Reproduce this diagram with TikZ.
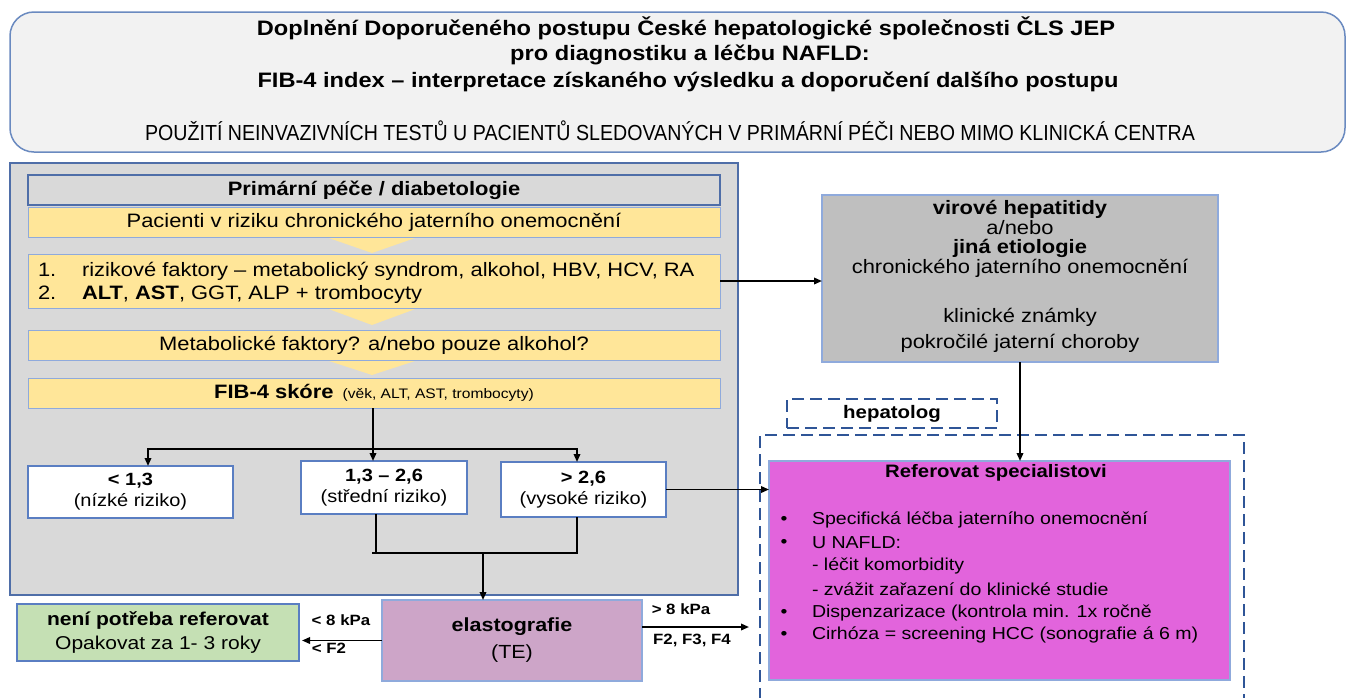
\documentclass[tikz,border=0pt]{standalone}
\usepackage{fontspec}
\setmainfont{Liberation Sans}[FakeStretch=1.13]
\newfontfamily\narrowsf{Liberation Sans}[FakeStretch=0.9]
\usetikzlibrary{arrows.meta}
\definecolor{tfill}{HTML}{F2F2F2}
\definecolor{tbord}{HTML}{6A8AC0}
\definecolor{pfill}{HTML}{D9D9D9}
\definecolor{pbord}{HTML}{4F6EA8}
\definecolor{yfill}{HTML}{FFE699}
\definecolor{ybord}{HTML}{8FAADC}
\definecolor{gfill}{HTML}{BFBFBF}
\definecolor{efill}{HTML}{CDA5C8}
\definecolor{grfill}{HTML}{C5E0B4}
\definecolor{rfill}{HTML}{E264DC}
\definecolor{dblue}{HTML}{2F5597}
\definecolor{wbord}{HTML}{5A7EC2}
\newcommand\ftitle{\fontsize{20.9}{24}\selectfont}
\newcommand\fsubt{\narrowsf\fontsize{21.8}{24}\selectfont}
\newcommand\fbody{\fontsize{19.4}{22}\selectfont}
\newcommand\fparen{\fontsize{13.8}{16}\selectfont}
\newcommand\fbx{\fontsize{17.7}{21}\selectfont}
\newcommand\fref{\fontsize{17.3}{21}\selectfont}
\newcommand\flab{\fontsize{14.9}{17}\selectfont}
\tikzset{
  base/.style={inner sep=0pt, outer sep=0pt},
  titlebox/.style={base, draw=tbord, line width=1.5, fill=tfill, rounded corners=24},
  panel/.style={base, draw=pbord, line width=1.2, fill=pfill},
  hdrbox/.style={base, draw=pbord, line width=1.2, fill=pfill, font=\fbody\bfseries},
  yelbox/.style={base, draw=ybord, line width=1, fill=yfill, font=\fbody},
  chev/.style={fill=yfill},
  wbox/.style={base, draw=wbord, line width=1.2, fill=white, font=\fbx, align=center},
  graybox/.style={base, draw=ybord, line width=1.2, fill=gfill},
  elbox/.style={base, draw=ybord, line width=1.2, fill=efill, align=center},
  grbox/.style={base, draw=wbord, line width=1.2, fill=grfill, align=center},
  refbox/.style={base, draw=ybord, line width=1.2, fill=rfill},
  dashbox/.style={base, draw=dblue, line width=2.2, dash pattern=on 12pt off 6pt},
  txt/.style={base, font=\fbody},
  rtxt/.style={base, font=\fref, anchor=west},
  lab/.style={base, font=\flab\bfseries},
  ln/.style={line width=1.8, draw=black},
  arr/.style={ln, -{Triangle[length=8pt,width=6.5pt]}},
  arr2/.style={ln, {Triangle[length=8pt,width=6.5pt]}-{Triangle[length=8pt,width=6.5pt]}}
}
\begin{document}
\begin{tikzpicture}[x=1pt,y=-1pt]
\useasboundingbox (0,0) rectangle (1347,697);
\fill[white] (0,0) rectangle (1347,697);

% title
\node[titlebox, minimum width=1335, minimum height=140] (title) at (677.5,82) {};
\node[base, font=\ftitle\bfseries] (t1) at (686,28) {Doplnění Doporučeného postupu České hepatologické společnosti ČLS JEP};
\node[base, font=\ftitle\bfseries] (t2) at (690,55) {pro diagnostiku a léčbu NAFLD:};
\node[base, font=\ftitle\bfseries] (t3) at (688,82) {FIB-4 index -- interpretace získaného výsledku a doporučení dalšího postupu};
\node[base, font=\fsubt] (t4) at (670,131) {POUŽITÍ NEINVAZIVNÍCH TESTŮ U PACIENTŮ SLEDOVANÝCH V PRIMÁRNÍ PÉČI NEBO MIMO KLINICKÁ CENTRA};

% left panel
\node[panel, minimum width=728, minimum height=432] (panel) at (374,379) {};
\fill[chev] (326,237) -- (418,237) -- (372,253) -- cycle;
\fill[chev] (326,308) -- (418,308) -- (372,325) -- cycle;
\fill[chev] (326,360) -- (418,360) -- (372,375) -- cycle;
\node[hdrbox, minimum width=692, minimum height=30] (hdr) at (374,190) {Primární péče / diabetologie};
\node[yelbox, minimum width=692, minimum height=30] (p1) at (374,222) {Pacienti v riziku chronického jaterního onemocnění};
\node[yelbox, minimum width=692, minimum height=54] (p2) at (374,281) {};
\node[txt, anchor=base west] (n1) at (38,276.5) {1.};
\node[txt, anchor=base west] (l1) at (82,276.5) {rizikové faktory -- metabolický syndrom, alkohol, HBV, HCV, RA};
\node[txt, anchor=base west] (n2) at (38,299.5) {2.};
\node[txt, anchor=base west] (l2) at (82,299.5) {\textbf{ALT}, \textbf{AST}, GGT, ALP + trombocyty};
\node[yelbox, minimum width=692, minimum height=30] (p3) at (374,345) {Metabolické faktory? a/nebo pouze alkohol?};
\node[yelbox, minimum width=692, minimum height=30] (fib) at (374,393) {\textbf{FIB-4 skóre}\hspace{9pt}{\fparen(věk, ALT, AST, trombocyty)}};

\node[wbox, minimum width=205, minimum height=52] (low) at (130.5,492) {\textbf{< 1,3}\\(nízké riziko)};
\node[wbox, minimum width=166, minimum height=53] (mid) at (384,487.5) {\textbf{1,3 -- 2,6}\\(střední riziko)};
\node[wbox, minimum width=165, minimum height=55] (high) at (583.5,489.5) {\textbf{> 2,6}\\(vysoké riziko)};

% bottom left
\node[elbox, minimum width=260, minimum height=81, font=\fontsize{19}{22}\selectfont] (elast) at (512,640.5) {\textbf{elastografie}\\[5pt](TE)};
\node[grbox, minimum width=282, minimum height=57, font=\fontsize{18.6}{24}\selectfont] (green) at (158,632.5) {\textbf{není potřeba referovat}\\Opakovat za 1- 3 roky};

% right side
\node[graybox, minimum width=396, minimum height=167] (gray) at (1020,278.5) {};
\node[txt] (g1) at (1020,209) {\textbf{virové hepatitidy}};
\node[txt] (g2) at (1020,228) {a/nebo};
\node[txt] (g3) at (1020,248) {\textbf{jiná etiologie}};
\node[txt] (g4) at (1020,268) {chronického jaterního onemocnění};
\node[txt] (g5) at (1020,317) {klinické známky};
\node[txt] (g6) at (1020,343) {pokročilé jaterní choroby};

\node[dashbox, minimum width=210, minimum height=29, font=\fontsize{18.1}{21}\selectfont\bfseries] (hep) at (892,413.5) {hepatolog};
\coordinate (cbl) at (760,700);
\coordinate (ctl) at (760,435);
\coordinate (ctr) at (1244,435);
\coordinate (cbr) at (1244,700);
\draw[dashbox] (cbl) -- (ctl) -- (ctr) -- (cbr);

\node[refbox, minimum width=461, minimum height=219] (ref) at (999.5,570.5) {};
\node[base, font=\fontsize{18}{21}\selectfont\bfseries] (rt) at (996,473) {Referovat specialistovi};
\foreach \yy/\nm in {520/b1,543/b2,613/b3,635/b4} {\node[base, font=\fref] (\nm) at (784,\yy) {•};}
\node[rtxt] (r1) at (812,520) {Specifická léčba jaterního onemocnění};
\node[rtxt] (r2) at (812,543) {U NAFLD:};
\node[rtxt] (r3) at (812,566) {- léčit komorbidity};
\node[rtxt] (r4) at (812,589) {- zvážit zařazení do klinické studie};
\node[rtxt] (r5) at (812,613) {Dispenzarizace (kontrola min. 1x ročně};
\node[rtxt] (r6) at (812,635) {Cirhóza = screening HCC (sonografie á 6 m)};

% connectors
\coordinate (j1) at (373,449);
\coordinate (jl) at (148,449);
\coordinate (jr) at (577,449);
\draw[arr] (fib.south -| j1) -- (mid.north -| j1);
\draw[arr2] (jl |- low.north) -- (jl) -- (jr) -- (jr |- high.north);
\coordinate (k1) at (376,553);
\coordinate (k2) at (577,553);
\coordinate (k3) at (483,553);
\draw[ln] (k1 |- mid.south) -- (k1) -- ++(-4,0) -- (k2) -- (k2 |- high.south);
\draw[arr] (k3) -- (k3 |- elast.north);
\draw[arr] (p2.east) -- (p2.east -| gray.west);
\draw[arr] (high.east) -- (high.east -| ref.west);
\draw[arr] (gray.south) -- (gray.south |- ref.north);
\draw[arr] (elast.west) -- ([xshift=3pt]elast.west -| green.east);
\coordinate (fr) at (749,627);
\draw[arr] (elast.east |- fr) -- (fr);

% labels
\node[lab] (la1) at (681,609) {> 8 kPa};
\node[lab] (la2) at (692,640) {F2, F3, F4};
\node[lab] (la3) at (341,620) {< 8 kPa};
\node[lab] (la4) at (329,648) {< F2};
\end{tikzpicture}
\end{document}
